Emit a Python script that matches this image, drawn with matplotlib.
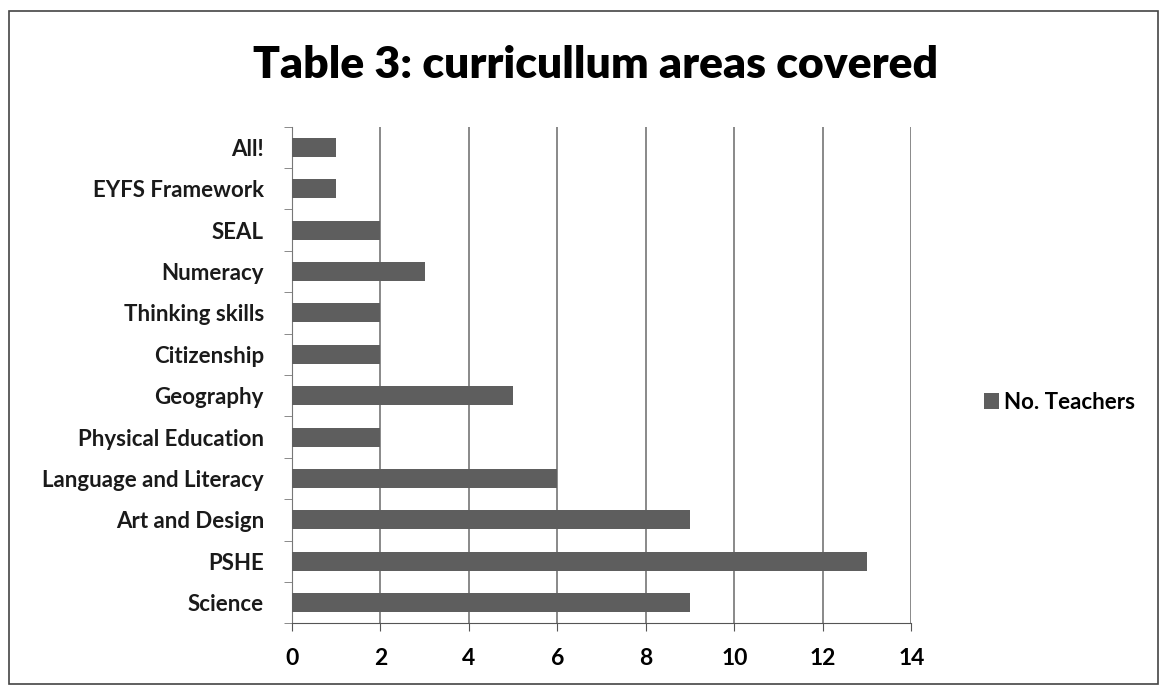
import matplotlib.pyplot as plt
from matplotlib.patches import Rectangle

# curriculum areas, bottom to top as drawn
areas = ["Science", "PSHE", "Art and Design", "Language and Literacy",
         "Physical Education", "Geography", "Citizenship", "Thinking skills",
         "Numeracy", "SEAL", "EYFS Framework", "All!"]
teachers = [9, 13, 9, 6, 2, 5, 2, 2, 3, 2, 1, 1]
x_ticks = [0, 2, 4, 6, 8, 10, 12, 14]

plt.rcParams['font.family'] = ['Lato', 'DejaVu Sans']

fig = plt.figure(figsize=(11.67, 6.88), dpi=100)
ax = fig.add_axes([0.250, 0.094, 0.531, 0.722])

pos = list(range(len(areas)))
ax.barh(pos, teachers, height=0.46, color='#5e5e5e', label='No. Teachers', zorder=3)

ax.set_xlim(0, 14)
ax.set_ylim(-0.5, len(areas) - 0.5)
ax.set_xticks(x_ticks)
ax.set_xticklabels([str(t) for t in x_ticks], fontsize=16.5, fontweight='bold')
ax.set_yticks(pos)
ax.set_yticklabels(areas, fontsize=16, fontweight='bold', color='#1a1a1a')
ax.tick_params(axis='y', length=0, pad=20)
ax.tick_params(axis='x', length=6, color='#555555', pad=12)
# category separators on the value axis
ax.set_yticks([p - 0.5 for p in pos] + [len(areas) - 0.5], minor=True)
ax.tick_params(axis='y', which='minor', length=6, color='#777777')

ax.grid(axis='x', color='#6a6a6a', linewidth=1.1, zorder=0)
for side in ['top', 'right']:
    ax.spines[side].set_visible(False)
ax.spines['left'].set_color('#777777')
ax.spines['bottom'].set_color('#555555')

fig.text(0.510, 0.905, "Table 3: curricullum areas covered", ha='center', va='center',
         fontsize=32, fontweight='heavy')

fig.legend(loc='center left', bbox_to_anchor=(0.826, 0.415), frameon=False,
           prop={'size': 16, 'weight': 'bold'},
           handlelength=0.7, handleheight=0.7, handletextpad=0.2)

# outer chart border
fig.patches.append(Rectangle((0.008, 0.006), 0.984, 0.978, transform=fig.transFigure,
                             fill=False, edgecolor='#444444', linewidth=1.2))

fig.savefig("out.png", dpi=100)
